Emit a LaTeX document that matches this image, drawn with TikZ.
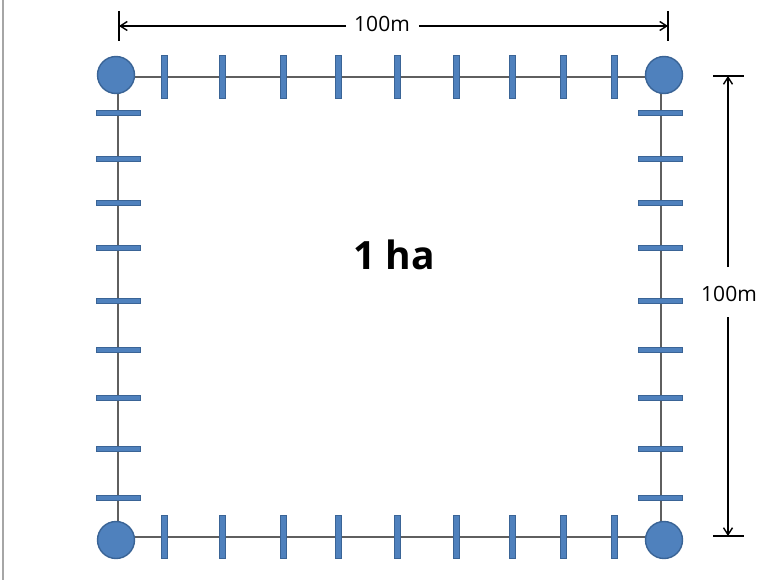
\documentclass[tikz,border=0pt]{standalone}
\usepackage{fontspec}
\setmainfont{Open Sans}
\usetikzlibrary{arrows.meta}
\definecolor{blfill}{HTML}{4F81BD}
\definecolor{bldraw}{HTML}{3A6496}
\definecolor{edgegray}{HTML}{5F5F5F}
\tikzset{
  corner/.style={circle,fill=blfill,draw=bldraw,line width=1.4pt,minimum size=37pt,inner sep=0pt},
  vtick/.style={rectangle,fill=blfill,draw=bldraw,line width=1pt,minimum width=6pt,minimum height=43pt,inner sep=0pt},
  htick/.style={rectangle,fill=blfill,draw=bldraw,line width=1pt,minimum width=44pt,minimum height=5.5pt,inner sep=0pt},
  edge/.style={draw=edgegray,line width=2.8pt},
  dim/.style={draw=black,line width=1.4pt,-{Straight Barb[length=7pt,width=9pt,line width=1.4pt]}},
  endbar/.style={draw=black,line width=2.6pt},
  dimlabel/.style={font=\fontsize{21}{24}\selectfont,inner sep=0pt}
}
\begin{document}
\begin{tikzpicture}[x=1pt,y=-1pt]
\useasboundingbox (0,0) rectangle (783,580);
\fill[white] (0,0) rectangle (783,580);
\draw[draw=gray!70,line width=1.5pt] (3,0) -- (3,580);
% square edges
\coordinate (p1) at (118,77);
\coordinate (p2) at (661,77);
\coordinate (p3) at (661,537);
\coordinate (p4) at (118,537);
\draw[edge] (p1) -- (p2) -- (p3) -- (p4) -- cycle;
% ticks top and bottom
\foreach \x [count=\i] in {164,222,283,338,397,456,512,563,614}{
  \node[vtick] (tt\i) at (\x,77) {};
  \node[vtick] (tb\i) at (\x,537) {};
}
% ticks left and right
\foreach \y [count=\i] in {113,159,203,248,301,350,398,449,498}{
  \node[htick] (tl\i) at (118,\y) {};
  \node[htick] (tr\i) at (660,\y) {};
}
% corners
\node[corner] (c1) at (116,75) {};
\node[corner] (c2) at (664,75) {};
\node[corner] (c3) at (664,540) {};
\node[corner] (c4) at (116,540) {};
% area label
\node[font=\fontsize{39}{42}\selectfont\bfseries] (area) at (394,255) {1 ha};
% top dimension
\node[dimlabel] (dt) at (382,24) {100m};
\coordinate (dtl) at (119,26);
\coordinate (dtr) at (668,26);
\draw[endbar] (119,11) -- (119,41);
\draw[endbar] (668,11) -- (668,41);
\draw[dim] ([xshift=-8pt]dt.west |- dtl) -- (dtl);
\draw[dim] ([xshift=9pt]dt.east |- dtr) -- (dtr);
% right dimension
\node[dimlabel] (dr) at (729,294) {100m};
\coordinate (drt) at (728,76);
\coordinate (drb) at (728,536);
\draw[endbar] (713,76) -- (744,76);
\draw[endbar] (713,536) -- (744,536);
\draw[dim] (728,267) -- (drt);
\draw[dim] (728,317) -- (drb);
\end{tikzpicture}
\end{document}
